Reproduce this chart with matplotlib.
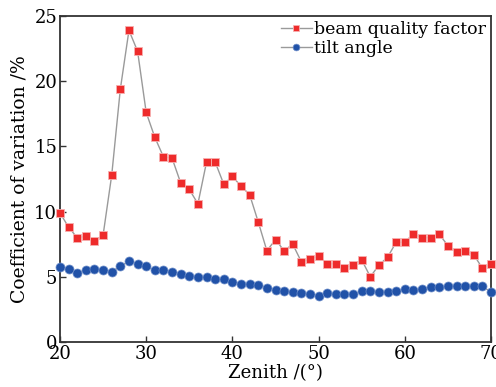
import numpy as np
import matplotlib
matplotlib.use("Agg")
import matplotlib.pyplot as plt

plt.rcParams['font.family'] = ['DejaVu Serif']
plt.rcParams['mathtext.fontset'] = 'dejavuserif'

# data
zenith = np.arange(20, 71)
beam_quality = [9.9, 8.8, 8.0, 8.1, 7.75, 8.2, 12.8, 19.4, 23.9, 22.3,
                17.6, 15.7, 14.2, 14.1, 12.2, 11.7, 10.6, 13.8, 13.8, 12.1,
                12.7, 11.95, 11.3, 9.2, 7.0, 7.85, 7.0, 7.5, 6.15, 6.35,
                6.6, 6.0, 6.0, 5.7, 5.9, 6.3, 5.0, 5.9, 6.5, 7.65,
                7.65, 8.3, 8.0, 8.0, 8.25, 7.4, 6.9, 7.0, 6.7, 5.65, 6.0]
tilt_angle = [5.75, 5.6, 5.3, 5.5, 5.6, 5.5, 5.4, 5.8, 6.2, 6.0,
              5.8, 5.5, 5.5, 5.4, 5.2, 5.05, 5.0, 5.0, 4.8, 4.8,
              4.6, 4.45, 4.45, 4.4, 4.15, 4.0, 3.9, 3.8, 3.75, 3.65,
              3.55, 3.75, 3.65, 3.7, 3.65, 3.9, 3.9, 3.85, 3.85, 3.9,
              4.05, 4.0, 4.07, 4.2, 4.2, 4.3, 4.3, 4.3, 4.3, 4.3, 3.8]

fig = plt.figure(figsize=(4.96, 3.87), dpi=100)
ax = fig.add_axes([60/496, 1-342/387, 431/496, 326/387])

ax.plot(zenith, beam_quality, color='#9a9a9a', lw=1.0, marker='s',
        ms=6.3, mfc='#ee2b2b', mec='#f7b0b0', mew=0.6, label='beam quality factor',
        clip_on=False, zorder=3)
ax.plot(zenith, tilt_angle, color='#9a9a9a', lw=1.0, marker='o',
        ms=6.5, mfc='#2152a8', mec='#6f8fca', mew=0.5, label='tilt angle',
        clip_on=False, zorder=3)

ax.set_xlim(20, 70)
ax.set_ylim(0, 25)
ax.set_xticks([20, 30, 40, 50, 60, 70])
ax.set_yticks([0, 5, 10, 15, 20, 25])
ax.tick_params(direction='in', length=4, width=1, labelsize=13, color='#333333', pad=2)
for s in ax.spines.values():
    s.set_linewidth(1.3)
    s.set_color('#333333')

ax.set_xlabel('Zenith /(°)', fontsize=13, labelpad=1)
ax.set_ylabel('Coefficient of variation /%', fontsize=13.5, labelpad=4)

ax.legend(loc='upper right', frameon=False, fontsize=12.5, handlelength=1.8,
          handletextpad=0.1, borderaxespad=0.1, labelspacing=0.1,
          markerscale=0.75, borderpad=0.2)

fig.savefig('out.png', dpi=100)
